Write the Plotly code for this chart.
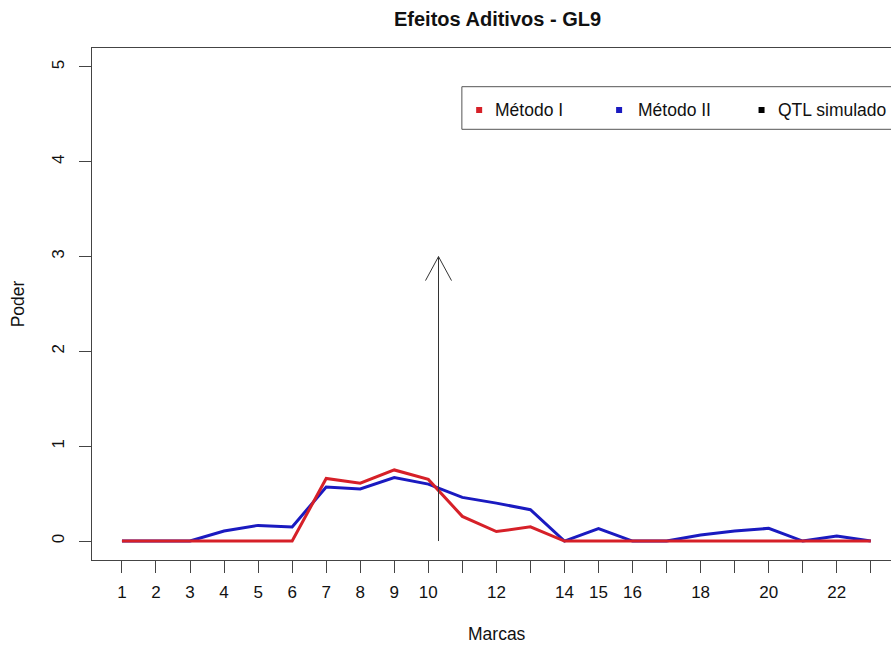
import plotly.graph_objects as go

# ---- data ----
marcas = list(range(1, 24))
metodo_1 = [0, 0, 0, 0, 0, 0, 0.66, 0.61, 0.75, 0.65, 0.26, 0.10, 0.15, 0,
            0, 0, 0, 0, 0, 0, 0, 0, 0]
metodo_2 = [0, 0, 0, 0.105, 0.165, 0.148, 0.57, 0.55, 0.67, 0.60, 0.46, 0.40, 0.33, 0,
            0.13, 0, 0, 0.063, 0.105, 0.134, 0, 0.053, 0]
qtl_pos = 10.3
qtl_height = 3
tick_labels = ["1", "2", "3", "4", "5", "6", "7", "8", "9", "10", "", "12", "",
               "14", "15", "16", "", "18", "", "20", "", "22", ""]
y_ticks = [0, 1, 2, 3, 4, 5]
legend_names = ["Método I", "Método II", "QTL simulado"]

RED = "#D62028"
BLUE = "#1A1AC0"
AX = "#444444"
TXT = "#111111"
FONT = "Liberation Sans, Arial, Helvetica, sans-serif"

W, H = 891, 645
L = 91.7
T = 48
B = H - 560
R = 0
PW = W - L - R
PH = H - T - B


def pxx(px):
    return (px - L) / PW


def pxy(py):
    return 1 - (py - T) / PH


fig = go.Figure()
fig.add_trace(go.Scatter(x=marcas, y=metodo_2, mode="lines",
                         line=dict(color=BLUE, width=3), showlegend=False))
fig.add_trace(go.Scatter(x=marcas, y=metodo_1, mode="lines",
                         line=dict(color=RED, width=3), showlegend=False))
fig.add_trace(go.Scatter(x=[qtl_pos, qtl_pos], y=[0, qtl_height], mode="lines",
                         line=dict(color="#333333", width=1), showlegend=False))

shapes = []
for dx in (-13, 13):
    shapes.append(dict(type="line", xref="x", yref="y", xsizemode="pixel", ysizemode="pixel",
                       xanchor=qtl_pos, yanchor=qtl_height, x0=0, y0=0, x1=dx, y1=-24,
                       line=dict(color="#333333", width=1)))

# legend box
lx0, ly0, ly1 = 461.7, 86.7, 129.3
shapes.append(dict(type="rect", xref="paper", yref="paper",
                   x0=pxx(lx0), x1=pxx(891 + 20), y0=pxy(ly1), y1=pxy(ly0),
                   line=dict(color="#555555", width=1), fillcolor="white", layer="above"))
annotations = []
colors = [RED, BLUE, "#000000"]
sq_x = [479, 619, 761.5]
txt_x = [493, 635.5, 776]
cy = 110
for c, sx, tx, name in zip(colors, sq_x, txt_x, legend_names):
    shapes.append(dict(type="rect", xref="paper", yref="paper",
                       x0=pxx(sx - 3), x1=pxx(sx + 3), y0=pxy(cy + 3), y1=pxy(cy - 3),
                       line=dict(width=0), fillcolor=c, layer="above"))
    annotations.append(dict(text=name, xref="paper", yref="paper", x=pxx(tx), y=pxy(cy),
                            xanchor="left", yanchor="middle", showarrow=False,
                            font=dict(size=17.5, color=TXT, family=FONT)))

annotations.append(dict(text="<b>Efeitos Aditivos - GL9</b>", xref="paper", yref="paper",
                        x=pxx(497), y=pxy(19), xanchor="center", yanchor="middle",
                        showarrow=False, font=dict(size=20, color=TXT, family=FONT)))
annotations.append(dict(text="Marcas", xref="paper", yref="paper",
                        x=pxx(497), y=pxy(634), xanchor="center", yanchor="middle",
                        showarrow=False, font=dict(size=17.5, color=TXT, family=FONT)))
annotations.append(dict(text="Poder", xref="paper", yref="paper",
                        x=pxx(18), y=pxy(304), xanchor="center", yanchor="middle",
                        textangle=-90, showarrow=False,
                        font=dict(size=17.5, color=TXT, family=FONT)))

fig.update_layout(
    width=W, height=H,
    margin=dict(l=L, r=R, t=T, b=B, pad=0),
    paper_bgcolor="white", plot_bgcolor="white",
    font=dict(family=FONT, size=17, color=TXT),
    shapes=shapes, annotations=annotations,
    xaxis=dict(range=[0.12, 1 + (891 - 121.7) / 34.05], tickmode="array",
               tickvals=marcas, ticktext=tick_labels, ticks="outside", ticklen=12,
               tickcolor=AX, tickwidth=1, showline=True, linecolor=AX, linewidth=1,
               mirror=True, showgrid=False, zeroline=False, ticklabelstandoff=5,
               tickfont=dict(size=17, family=FONT, color=TXT)),
    yaxis=dict(range=[-0.2, 5.2], tickmode="array", tickvals=y_ticks,
               ticks="outside", ticklen=12, tickcolor=AX, tickwidth=1,
               showline=True, linecolor=AX, linewidth=1, showgrid=False, zeroline=False,
               tickangle=-90, ticklabelstandoff=8,
               tickfont=dict(size=17, family=FONT, color=TXT)),
)

fig.write_html("out.html", config={"displayModeBar": False},
               post_script="document.body.style.margin='0px';document.body.style.overflow='hidden';")
